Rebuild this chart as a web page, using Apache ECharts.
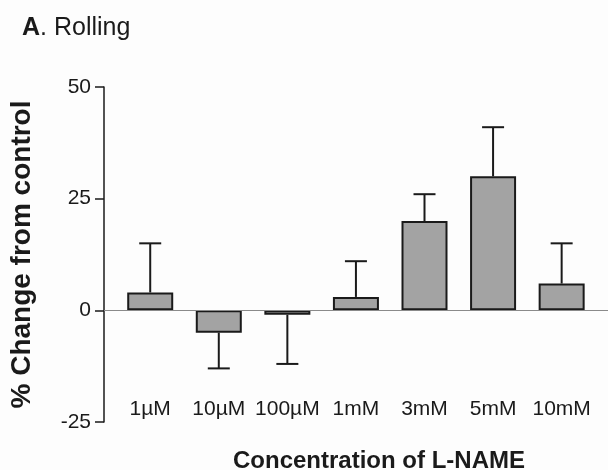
<!DOCTYPE html>
<html>
<head>
<meta charset="utf-8">
<script src="https://cdn.jsdelivr.net/npm/echarts@6/dist/echarts.min.js"></script>
<style>
html,body{margin:0;padding:0;background:#fdfdfd;}
#main{width:608px;height:470px;}
</style>
</head>
<body>
<div id="main"></div>
<script>
var categories = ['1\u00b5M', '10\u00b5M', '100\u00b5M', '1mM', '3mM', '5mM', '10mM'];
var means = [4, -5, -1, 3, 20, 30, 6];
var sems = [11, 8, 11, 8, 6, 11, 9];
var yTicks = [-25, 0, 25, 50];

var FONT = '"Liberation Sans", Arial, sans-serif';
var positions = categories.map(function (c, i) { return i; });
var barData = positions.map(function (i) { return [i, means[i]]; });
var errData = positions.map(function (i) { return [i, means[i], means[i] >= 0 ? means[i] + sems[i] : means[i] - sems[i]]; });

var chart = echarts.init(document.getElementById('main'), null, {renderer: 'canvas'});
chart.setOption({
  backgroundColor: '#fdfdfd',
  animation: false,
  title: {
    text: '{b|A}. Rolling',
    left: 22, top: 16, padding: 0,
    textStyle: {
      fontFamily: FONT, fontSize: 25, fontWeight: 'normal', color: '#1a1a1a',
      rich: { b: { fontFamily: FONT, fontSize: 25, fontWeight: 'bold', color: '#1a1a1a' } }
    }
  },
  grid: { left: 103, right: 0, top: 87, bottom: 48, containLabel: false },
  xAxis: {
    type: 'value',
    min: -0.674, max: 6.676,
    position: 'bottom',
    axisLine: { show: false },
    axisTick: { show: false },
    splitLine: { show: false },
    axisLabel: {
      inside: true,
      margin: 2,
      customValues: positions,
      formatter: function (v) { return categories[Math.round(v)]; },
      fontFamily: FONT, fontSize: 21, color: '#1a1a1a'
    }
  },
  yAxis: {
    type: 'value',
    min: yTicks[0], max: yTicks[yTicks.length - 1], interval: 25,
    name: '% Change from control',
    nameLocation: 'middle',
    nameRotate: 90,
    nameGap: 68,
    nameTextStyle: { fontFamily: FONT, fontSize: 28, fontWeight: 'bold', color: '#1a1a1a' },
    axisLine: { show: true, onZero: false, lineStyle: { color: '#1a1a1a', width: 1.5 } },
    axisTick: { show: true, inside: false, length: 9, lineStyle: { color: '#1a1a1a', width: 1.5 } },
    splitLine: { show: false },
    axisLabel: { margin: 13, fontFamily: FONT, fontSize: 21, color: '#1a1a1a' }
  },
  graphic: [{
    type: 'text',
    left: 379 - 146, top: 449,
    style: {
      text: 'Concentration of L-NAME',
      fontFamily: FONT, fontSize: 24, fontWeight: 'bold', fill: '#1a1a1a'
    }
  }],
  series: [{
    type: 'bar',
    data: barData,
    barWidth: 46,
    itemStyle: { color: '#a3a3a3', borderColor: '#1a1a1a', borderWidth: 2 },
    markLine: {
      silent: true,
      symbol: ['none', 'none'],
      label: { show: false },
      lineStyle: { type: 'solid', color: '#8a8a8a', width: 1.2 },
      data: [{ yAxis: 0 }]
    },
    z: 3
  }, {
    type: 'custom',
    data: errData,
    z: 2,
    renderItem: function (params, api) {
      var x = api.value(0);
      var p0 = api.coord([x, api.value(1)]);
      var p1 = api.coord([x, api.value(2)]);
      var half = 11;
      var st = { stroke: '#1a1a1a', lineWidth: 2 };
      return {
        type: 'group',
        children: [
          { type: 'line', shape: { x1: p0[0], y1: p0[1], x2: p1[0], y2: p1[1] }, style: st },
          { type: 'line', shape: { x1: p1[0] - half, y1: p1[1], x2: p1[0] + half, y2: p1[1] }, style: st }
        ]
      };
    }
  }]
});
</script>
</body>
</html>
